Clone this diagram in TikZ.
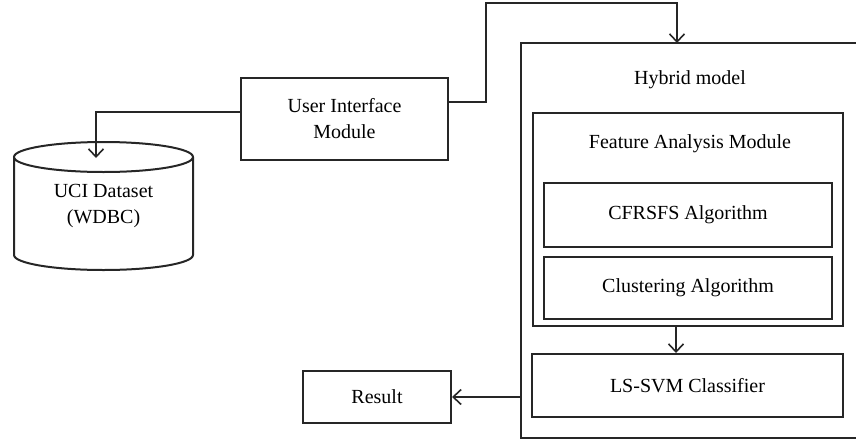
\documentclass[tikz,border=0pt]{standalone}
\usepackage{fontspec}
\setmainfont{Liberation Serif}
\usetikzlibrary{arrows.meta,calc}
\begin{document}
\begin{tikzpicture}[x=1pt,y=-1pt,
  box/.style={draw=black!85,line width=2pt,fill=none,inner sep=0pt,align=center,
    font=\fontsize{20}{26}\selectfont},
  lbl/.style={inner sep=0pt,align=center,font=\fontsize{20}{26}\selectfont},
  conn/.style={draw=black!85,line width=1.4pt},
  arr/.style={conn,-{Straight Barb[length=8pt,width=15pt,line width=1.6pt]}}]
\useasboundingbox (0,0) rectangle (856,442);
\clip (0,0) rectangle (856,442);
% hybrid container
\node[box,minimum width=359pt,minimum height=395pt] (hyb) at (700.5,240.5) {};
\node[lbl] (hyblbl) at (690,80) {Hybrid model};
% feature analysis module
\node[box,minimum width=310pt,minimum height=213pt] (fam) at (688,219.5) {};
\node[lbl] (famlbl) at (690,144) {Feature Analysis Module};
\node[box,minimum width=288pt,minimum height=64pt] (cfr) at (688,215) {CFRSFS Algorithm};
\node[box,minimum width=288pt,minimum height=62pt] (clu) at (688,288) {Clustering Algorithm};
\node[box,minimum width=311pt,minimum height=63pt] (svm) at (687.5,385.5) {LS-SVM Classifier};
% result
\node[box,minimum width=148pt,minimum height=52pt] (res) at (377,397) {Result};
% user interface
\node[box,minimum width=207pt,minimum height=82pt] (ui) at (344.5,119) {User Interface\\Module};
% database cylinder
\node[lbl] (db) at (103.5,206) {UCI Dataset\\(WDBC)};
\draw[draw=black!85,line width=2pt]
  (14,157) -- (14,255) arc[start angle=180,end angle=360,x radius=89.5,y radius=-15] -- (193,157)
  (103.5,157) ellipse[x radius=89.5,y radius=15];
\coordinate (dbin) at (96,158);
\coordinate (hybin) at (677,43);
% connectors
\draw[arr] ([yshift=7pt]ui.west) -| (dbin);
\draw[arr] ([yshift=17pt]ui.east) -- (486,102) -- (486,3) -| (hybin);
\draw[arr] ([xshift=-12pt]fam.south) -- ([xshift=-11.5pt]svm.north);
\draw[arr] (hyb.west |- res.east) -- (res.east);
\end{tikzpicture}
\end{document}
